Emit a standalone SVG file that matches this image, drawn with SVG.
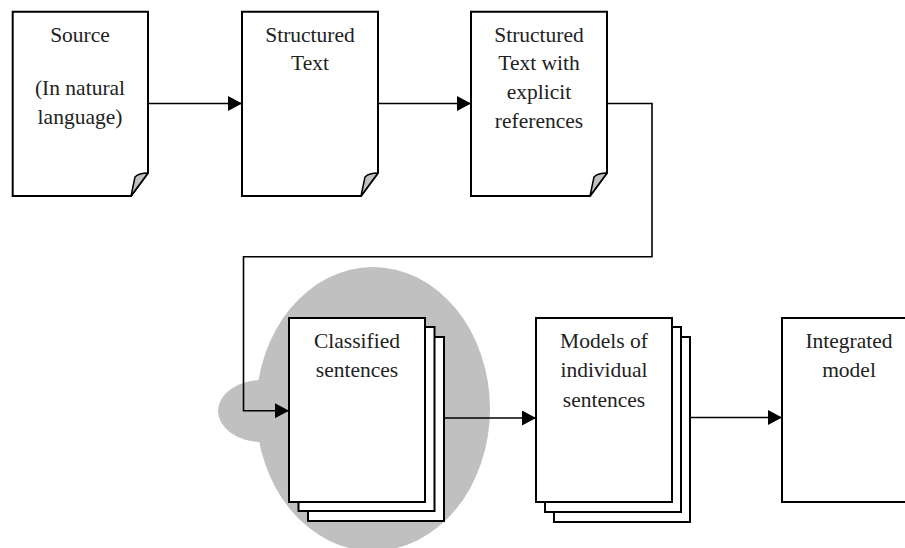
<svg xmlns="http://www.w3.org/2000/svg" width="905" height="548" viewBox="0 0 905 548">
<defs>
<style>
.doc{fill:#fff;stroke:#000;stroke-width:2}
.fold{fill:#c0c0c0;stroke:#000;stroke-width:1.5;stroke-linejoin:round}
.con{fill:none;stroke:#000;stroke-width:1.6}
text{font-family:"Liberation Serif","Times New Roman",serif;font-size:21.5px;fill:#222;text-anchor:middle}
</style>
<marker id="arr" markerUnits="userSpaceOnUse" markerWidth="15" markerHeight="15" viewBox="0 0 15 15" refX="14" refY="7.5" orient="auto">
<path d="M0,0 L14,7.5 L0,15 Z" fill="#000"/>
</marker>
</defs>
<rect width="905" height="548" fill="#fff"/>
<g id="highlight">
<ellipse cx="373" cy="409" rx="117" ry="142" fill="#c0c0c0"/>
<ellipse cx="262" cy="411" rx="44" ry="31" fill="#c0c0c0"/>
</g>
<g id="source">
<path class="doc" d="M12.7,11.7 H148 V173 L131,196 H12.7 Z"/>
<path class="fold" d="M131,196 L135,177 Q139,173 148,173 Z"/>
<text x="80" y="41.7">Source</text>
<text x="80" y="95">(In natural</text>
<text x="80" y="124">language)</text>
</g>
<g id="structured">
<path class="doc" d="M242,11.7 H378 V173 L361,196 H242 Z"/>
<path class="fold" d="M361,196 L365,177 Q369,173 378,173 Z"/>
<text x="310" y="41.7">Structured</text>
<text x="310" y="70">Text</text>
</g>
<g id="explicit">
<path class="doc" d="M471,11.7 H607 V173 L590,196 H471 Z"/>
<path class="fold" d="M590,196 L594,177 Q598,173 607,173 Z"/>
<text x="539" y="41.7">Structured</text>
<text x="539" y="70">Text with</text>
<text x="539" y="99">explicit</text>
<text x="539" y="128">references</text>
</g>
<g id="classified">
<rect class="doc" x="308" y="337" width="136" height="184"/>
<rect class="doc" x="298.5" y="327" width="136" height="184"/>
<rect class="doc" x="289" y="318" width="136" height="184"/>
<text x="357" y="348.3">Classified</text>
<text x="357" y="377">sentences</text>
</g>
<g id="models">
<rect class="doc" x="554" y="337" width="136" height="185"/>
<rect class="doc" x="545" y="327" width="136" height="185"/>
<rect class="doc" x="536" y="318" width="136" height="184"/>
<text x="604" y="348.3">Models of</text>
<text x="604" y="377.3">individual</text>
<text x="604" y="406.7">sentences</text>
</g>
<g id="integrated">
<rect class="doc" x="782" y="318" width="136" height="184"/>
<text x="849" y="348.3">Integrated</text>
<text x="849" y="377.3">model</text>
</g>
<g id="connectors">
<path class="con" d="M148,103.5 H242" marker-end="url(#arr)"/>
<path class="con" d="M378,103.5 H471" marker-end="url(#arr)"/>
<path class="con" d="M607,103.5 H652 V256.7 H243.5 V410.7 H289" marker-end="url(#arr)"/>
<path class="con" d="M444,418 H536" marker-end="url(#arr)"/>
<path class="con" d="M690,417.5 H782" marker-end="url(#arr)"/>
</g>
</svg>
